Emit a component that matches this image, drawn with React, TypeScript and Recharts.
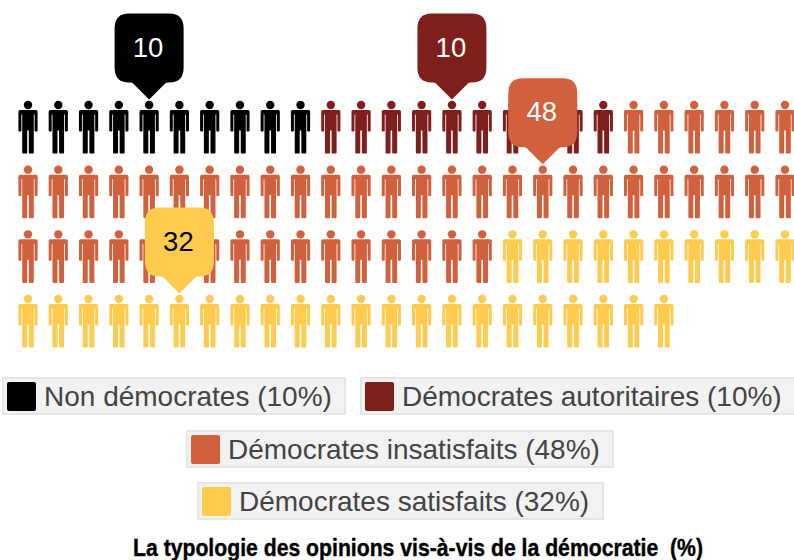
import React from "react";
import { ScatterChart, Scatter, XAxis, YAxis } from "recharts";

const WIDTH = 794;
const HEIGHT = 560;
const PER_ROW = 26;

const categories = ["Non démocrates", "Démocrates autoritaires", "Démocrates insatisfaits", "Démocrates satisfaits"];
const shares = [10, 10, 48, 32];
const colors = ["#000000", "#7f1f1c", "#d1603d", "#ffcb4f"];
const calloutText = ["#ffffff", "#ffffff", "#ffffff", "#000000"];
// Which person (counted from 0, row by row) carries each category's bubble
const calloutPerson = [4, 14, 43, 83];

const legendBoxes = [
  { left: 2, top: 377, width: 344 },
  { left: 360, top: 377, width: 436 },
  { left: 186, top: 430, width: 428 },
  { left: 197, top: 482, width: 407 },
];

const title = "La typologie des opinions vis-à-vis de la démocratie  (%)";

type Person = { col: number; row: number; value: number; index: number };

const place = (i: number) => ({ col: i % PER_ROW, row: Math.floor(i / PER_ROW) });

let cursor = 0;
const groups: Person[][] = shares.map((share, c) => {
  const people: Person[] = [];
  for (let k = 0; k < share; k++) {
    people.push({ ...place(cursor), value: share, index: c });
    cursor++;
  }
  return people;
});
const callouts: Person[] = calloutPerson.map((p, c) => ({ ...place(p), value: shares[c], index: c }));

const PERSON_PATH =
  "M-9.6 6.6 Q-9.6 5 -8 5 L8 5 Q9.6 5 9.6 6.6 L9.6 25.5 Q9.6 26.4 8.6 26.4 L7.4 26.4 Q6.6 26.4 6.6 25.5 L6.6 9.6 L5.8 9.6 " +
  "L5.8 47.4 Q5.8 48.6 4.6 48.6 L2 48.6 Q0.8 48.6 0.8 47.4 L0.8 25.5 L-0.8 25.5 L-0.8 47.4 Q-0.8 48.6 -2 48.6 L-4.6 48.6 Q-5.8 48.6 -5.8 47.4 " +
  "L-5.8 9.6 L-6.6 9.6 L-6.6 25.5 Q-6.6 26.4 -7.4 26.4 L-8.6 26.4 Q-9.6 26.4 -9.6 25.5 Z";

const PersonMark = (props: any) => {
  const { cx, cy, fill } = props;
  return (
    <g transform={`translate(${cx},${cy})`} fill={fill}>
      <circle cx={0} cy={0} r={4.2} />
      <path d={PERSON_PATH} />
    </g>
  );
};

const BUBBLE_PATH =
  "M0 0 L-16 -16 Q-17 -17 -19 -17 L-20 -17 Q-34.5 -17 -34.5 -32 L-34.5 -71 Q-34.5 -86 -20 -86 L20 -86 Q34.5 -86 34.5 -71 L34.5 -32 Q34.5 -17 20 -17 L19 -17 Q17 -17 16 -16 Z";

const Bubble = (props: any) => {
  const { cx, cy, payload } = props;
  const c = payload.index;
  return (
    <g transform={`translate(${cx},${cy - 5.5})`}>
      <path d={BUBBLE_PATH} fill={colors[c]} />
      <text
        x={-1}
        y={-43}
        textAnchor="middle"
        fontFamily="'Liberation Sans', Arial, sans-serif"
        fontSize={27.5}
        fill={calloutText[c]}
      >
        {payload.value}
      </text>
    </g>
  );
};

export default function App() {
  return (
    <div style={{ position: "absolute", left: 0, top: 0, width: WIDTH, height: HEIGHT, overflow: "hidden", background: "#fff" }}>
      <ScatterChart width={WIDTH} height={HEIGHT} margin={{ left: 28, right: 9, top: 105, bottom: 560 - 299 }}>
        <XAxis type="number" dataKey="col" domain={[0, PER_ROW - 1]} hide />
        <YAxis type="number" dataKey="row" domain={[0, 3]} reversed hide />
        {groups.map((people, c) => (
          <Scatter
            key={categories[c]}
            name={categories[c]}
            data={people}
            fill={colors[c]}
            shape={PersonMark}
            isAnimationActive={false}
          />
        ))}
        <Scatter name="Bulles" data={callouts} shape={Bubble} isAnimationActive={false} />
      </ScatterChart>

      {categories.map((name, c) => (
        <div
          key={name}
          style={{
            position: "absolute",
            left: legendBoxes[c].left,
            top: legendBoxes[c].top,
            width: legendBoxes[c].width,
            height: 38,
            boxSizing: "border-box",
            background: "#f2f2f2",
            border: "2px solid #e6e6e6",
            display: "flex",
            alignItems: "center",
            whiteSpace: "nowrap",
            fontFamily: "'Liberation Sans', Arial, sans-serif",
            fontSize: 28,
            color: "#444444",
          }}
        >
          <span style={{ width: 29, height: 29, marginLeft: 3, marginRight: 8, background: colors[c], borderRadius: 2, flex: "none" }} />
          <span style={{ position: "relative", top: 1 }}>{`${name} (${shares[c]}%)`}</span>
        </div>
      ))}

      <div
        style={{
          position: "absolute",
          left: 0,
          top: 536,
          width: 836,
          height: 24,
          lineHeight: "24px",
          textAlign: "center",
          whiteSpace: "pre",
          fontFamily: "'Liberation Sans', sans-serif",
          fontWeight: 700,
          fontSize: 24,
          color: "#000000",
          transform: "scaleX(0.883)",
          WebkitTextStroke: "0.4px #000000",
        }}
      >
        {title}
      </div>
    </div>
  );
}
